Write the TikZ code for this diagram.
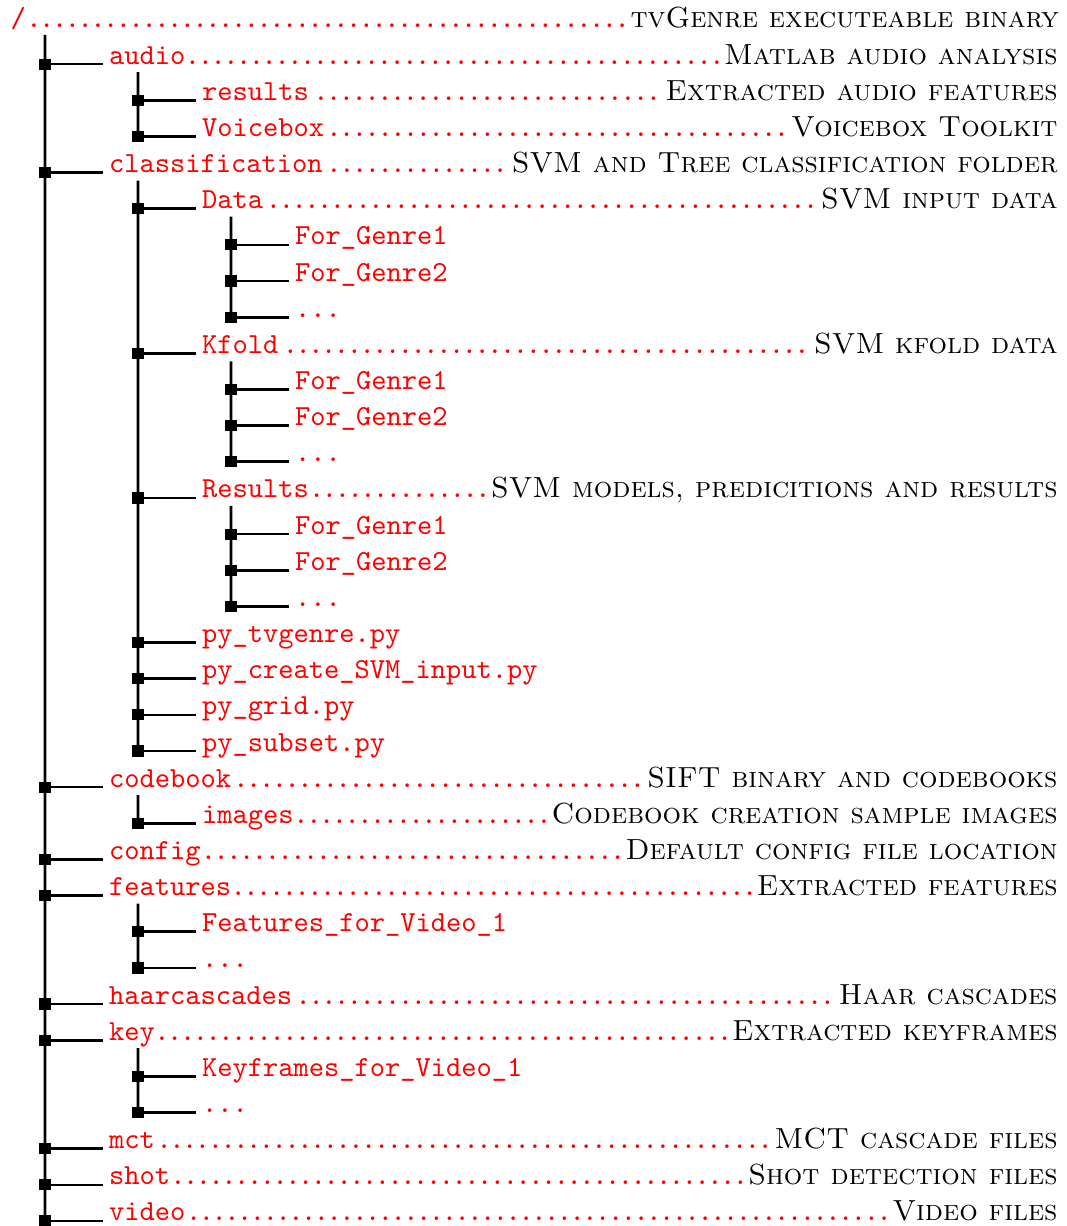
\documentclass[tikz,border=0pt]{standalone}
\usepackage{xcolor}
\usetikzlibrary{calc}
\newcommand\dline[3]{\makebox[#1][l]{{\color{red}\ttfamily #2\dotfill}\textsc{#3}}}
\newcommand\dname[1]{{\color{red}\ttfamily #1}}
\newcommand\kid[1]{%
  \coordinate (#1-j) at ([xshift=-22.02pt]#1.base west);
  \draw[branch] (#1-j) -- (#1.base west);
  \fill[knot] (#1-j) +(-5.8,-5.6) rectangle +(5.8,5.6);}
\newcommand\trunkline[2]{\draw[trunk] ([xshift=9.98pt,yshift=-2.75pt]#1.base west) -- (#2-j);}
\begin{document}
\begin{tikzpicture}[x=0.3441pt,y=-0.3441pt,
  entry/.style={anchor=base west,inner sep=0pt,outer sep=0pt},
  branch/.style={line width=0.9pt,shorten >=2.06pt},
  trunk/.style={line width=0.9pt},
  knot/.style={fill=black}]
\useasboundingbox (0,0) rectangle (1066,1226);
% level x: L0 10.5, L1 109, L2 202, L3 295
\node[entry] (root) at (10.5,28) {\dline{360.8pt}{/}{tvGenre executeable binary}};
\node[entry] (audio) at (109,64.15) {\dline{326.4pt}{audio}{Matlab audio analysis}};
\node[entry] (aresults) at (202,100.3) {\dline{294.4pt}{results}{Extracted audio features}};
\node[entry] (voicebox) at (202,136.45) {\dline{294.4pt}{Voicebox}{Voicebox Toolkit}};
\node[entry] (classif) at (109,172.6) {\dline{326.4pt}{classification}{SVM and Tree classification folder}};
\node[entry] (data) at (202,208.75) {\dline{294.4pt}{Data}{SVM input data}};
\node[entry] (dfga) at (295,244.9) {\dname{For\_Genre1}};
\node[entry] (dfgb) at (295,281.05) {\dname{For\_Genre2}};
\node[entry] (ddots) at (295,317.2) {\dname{...}};
\node[entry] (kfold) at (202,353.35) {\dline{294.4pt}{Kfold}{SVM kfold data}};
\node[entry] (kfga) at (295,389.5) {\dname{For\_Genre1}};
\node[entry] (kfgb) at (295,425.65) {\dname{For\_Genre2}};
\node[entry] (kdots) at (295,461.8) {\dname{...}};
\node[entry] (cresults) at (202,497.95) {\dline{294.4pt}{Results}{SVM models, predicitions and results}};
\node[entry] (rfga) at (295,534.1) {\dname{For\_Genre1}};
\node[entry] (rfgb) at (295,570.25) {\dname{For\_Genre2}};
\node[entry] (rdots) at (295,606.4) {\dname{...}};
\node[entry] (pytv) at (202,642.55) {\dname{py\_tvgenre.py}};
\node[entry] (pycreate) at (202,678.7) {\dname{py\_create\_SVM\_input.py}};
\node[entry] (pygrid) at (202,714.85) {\dname{py\_grid.py}};
\node[entry] (pysubset) at (202,751) {\dname{py\_subset.py}};
\node[entry] (codebook) at (109,787.15) {\dline{326.4pt}{codebook}{SIFT binary and codebooks}};
\node[entry] (images) at (202,823.3) {\dline{294.4pt}{images}{Codebook creation sample images}};
\node[entry] (config) at (109,859.45) {\dline{326.4pt}{config}{Default config file location}};
\node[entry] (features) at (109,895.6) {\dline{326.4pt}{features}{Extracted features}};
\node[entry] (ffv) at (202,931.75) {\dname{Features\_for\_Video\_1}};
\node[entry] (fdots) at (202,967.9) {\dname{...}};
\node[entry] (haar) at (109,1004.05) {\dline{326.4pt}{haarcascades}{Haar cascades}};
\node[entry] (key) at (109,1040.2) {\dline{326.4pt}{key}{Extracted keyframes}};
\node[entry] (kfv) at (202,1076.35) {\dname{Keyframes\_for\_Video\_1}};
\node[entry] (keydots) at (202,1112.5) {\dname{...}};
\node[entry] (mct) at (109,1148.65) {\dline{326.4pt}{mct}{MCT cascade files}};
\node[entry] (shot) at (109,1184.8) {\dline{326.4pt}{shot}{Shot detection files}};
\node[entry] (video) at (109,1220.95) {\dline{326.4pt}{video}{Video files}};
% connectors
\foreach \n in {audio,aresults,voicebox,classif,data,dfga,dfgb,ddots,kfold,kfga,kfgb,kdots,
  cresults,rfga,rfgb,rdots,pytv,pycreate,pygrid,pysubset,codebook,images,config,features,
  ffv,fdots,haar,key,kfv,keydots,mct,shot,video}{\kid{\n}}
\draw[trunk] ([xshift=11.87pt,yshift=-2.41pt]root.base west) -- (video-j);
\trunkline{audio}{voicebox}
\trunkline{classif}{pysubset}
\trunkline{data}{ddots}
\trunkline{kfold}{kdots}
\trunkline{cresults}{rdots}
\trunkline{codebook}{images}
\trunkline{features}{fdots}
\trunkline{key}{keydots}
\end{tikzpicture}
\end{document}
